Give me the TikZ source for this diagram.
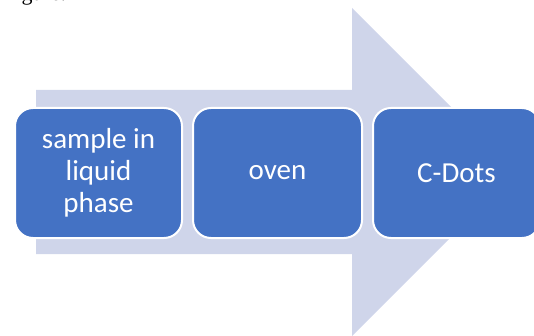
\documentclass[tikz,border=0pt]{standalone}
\usepackage{fontspec}
\setmainfont{Carlito}
\newfontfamily\bodyserif{Liberation Serif}
\usetikzlibrary{positioning}
\definecolor{stageblue}{HTML}{4472C4}
\definecolor{arrowgrey}{HTML}{CFD5EA}
\tikzset{stage/.style={shape=rectangle, rounded corners=18pt, fill=stageblue,
    draw=white, line width=2pt, text=white, minimum width=167pt,
    minimum height=130pt, inner sep=0pt, align=center,
    font=\fontsize{29}{32}\selectfont}}

\begin{document}
\begin{tikzpicture}[x=1pt, y=-1pt, node distance=9pt]
    \useasboundingbox (0,0) rectangle (534,336);
    \node(caption) [anchor=base west, font=\bodyserif\fontsize{22}{26}\selectfont] at (18,0.5) {gure.};

    % the big process arrow behind the stages
    \path[fill=arrowgrey] (36,90) -- (352,90) -- (352,8) -- (516,172) -- (352,336) -- (352,254) -- (36,254) -- cycle;

    \node(sample)[stage] at (98.5,173)            {sample in\\liquid\\phase};
    \node(oven)  [stage, minimum width=169pt, right=of sample] {oven};
    \node(cdots) [stage, right=of oven]           {C-Dots};
\end{tikzpicture}
\end{document}
